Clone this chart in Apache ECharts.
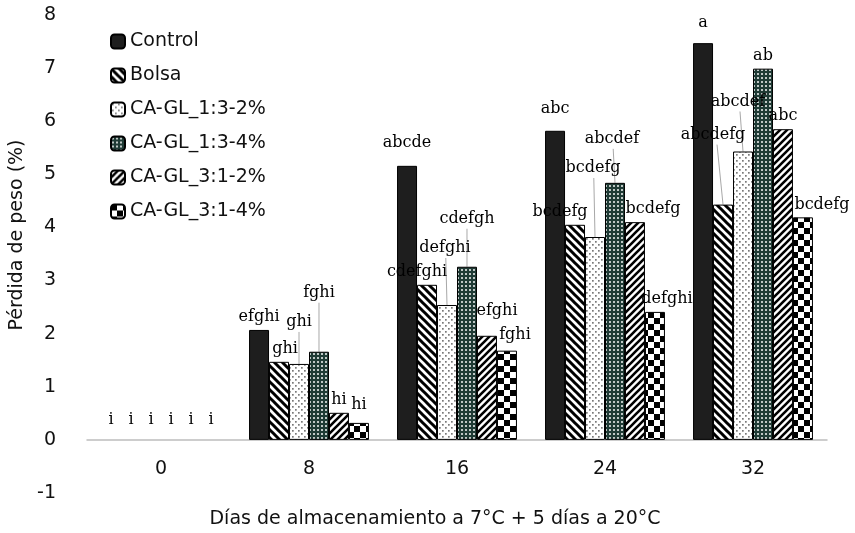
<!DOCTYPE html>
<html>
<head>
<meta charset="utf-8">
<script src="https://cdn.jsdelivr.net/npm/echarts@6/dist/echarts.min.js"></script>
<style>
html,body{margin:0;padding:0;background:#fff;}
#chart{width:855px;height:533px;}
</style>
</head>
<body>
<div id="chart"></div>
<script>
// ---- data ----
const categories = ['0', '8', '16', '24', '32'];
const seriesNames = ['Control', 'Bolsa', 'CA-GL_1:3-2%', 'CA-GL_1:3-4%', 'CA-GL_3:1-2%', 'CA-GL_3:1-4%'];
const yTicks = [-1, 0, 1, 2, 3, 4, 5, 6, 7, 8];

const control = [0, 2.07, 5.16, 5.82, 7.47];
const bolsa   = [0, 1.47, 2.92, 4.05, 4.43];
const gl13_2  = [0, 1.43, 2.54, 3.82, 5.43];
const gl13_4  = [0, 1.66, 3.26, 4.84, 6.99];
const gl31_2  = [0, 0.51, 1.96, 4.10, 5.85];
const gl31_4  = [0, 0.32, 1.68, 2.41, 4.19];

const lettersControl = ['i', 'efghi', 'abcde', 'abc', 'a'];
const lettersBolsa   = ['i', 'ghi', 'cdefghi', 'bcdefg', 'abcdefg'];
const letters13_2    = ['i', 'ghi', 'defghi', 'bcdefg', 'abcdef'];
const letters13_4    = ['i', 'fghi', 'cdefgh', 'abcdef', 'ab'];
const letters31_2    = ['i', 'hi', 'efghi', 'bcdefg', 'abc'];
const letters31_4    = ['i', 'hi', 'fghi', 'defghi', 'bcdefg'];

// ---- label layout (offsets in px, leader line flags) ----
const labelOffsets = [
  [[0,-7],[0,0],[0,-10],[0,-9],[0,-7]],
  [[0,-7],[6,0],[-10,0],[-15,0],[-10,-57]],
  [[0,-7],[0,-29],[-2,-44],[-2,-56],[-5,-37]],
  [[0,-7],[0,-46],[0,-35],[-3,-31],[0,0]],
  [[0,-7],[0,0],[10,-12],[18,0],[0,0]],
  [[0,-7],[0,-5],[8,-3],[12,0],[19,0]]
];
const leaderLines = [
  [false,false,false,false,false],
  [false,false,false,false,true],
  [false,true,true,true,true],
  [false,true,true,true,false],
  [false,false,false,false,false],
  [false,false,false,false,false]
];
const CAT_GAP = 0.19;
const LABEL_DIST = 5;

// ---- patterns ----
function tile(w, h, draw) {
  const c = document.createElement('canvas');
  c.width = w; c.height = h;
  const ctx = c.getContext('2d');
  draw(ctx, w, h);
  return { image: c, repeat: 'repeat' };
}
const fills = [
  '#1e1e1e',
  tile(8, 8, (ctx, w, h) => {
    ctx.fillStyle = '#fff'; ctx.fillRect(0, 0, w, h);
    ctx.strokeStyle = '#000'; ctx.lineWidth = 3;
    ctx.beginPath();
    ctx.moveTo(-2, -2); ctx.lineTo(w + 2, h + 2);
    ctx.moveTo(-2, h - 2); ctx.lineTo(2, h + 2);
    ctx.moveTo(w - 2, -2); ctx.lineTo(w + 2, 2);
    ctx.stroke();
  }),
  tile(6, 6, (ctx, w, h) => {
    ctx.fillStyle = '#fff'; ctx.fillRect(0, 0, w, h);
    ctx.fillStyle = '#7a7a7a';
    ctx.fillRect(1, 1, 1.7, 1.7);
    ctx.fillRect(4, 4, 1.7, 1.7);
  }),
  tile(4, 4, (ctx, w, h) => {
    ctx.fillStyle = '#1f3b35'; ctx.fillRect(0, 0, w, h);
    ctx.fillStyle = '#bfc7c5';
    ctx.fillRect(1, 1, 2, 2);
  }),
  tile(7, 7, (ctx, w, h) => {
    ctx.fillStyle = '#fff'; ctx.fillRect(0, 0, w, h);
    ctx.strokeStyle = '#000'; ctx.lineWidth = 2.6;
    ctx.beginPath();
    ctx.moveTo(-2, h + 2); ctx.lineTo(w + 2, -2);
    ctx.moveTo(-2, 2); ctx.lineTo(2, -2);
    ctx.moveTo(w - 2, h + 2); ctx.lineTo(w + 2, h - 2);
    ctx.stroke();
  }),
  tile(12, 12, (ctx, w, h) => {
    ctx.fillStyle = '#fff'; ctx.fillRect(0, 0, w, h);
    ctx.fillStyle = '#000';
    ctx.fillRect(0, 0, 6, 6);
    ctx.fillRect(6, 6, 6, 6);
  })
];

const values = [control, bolsa, gl13_2, gl13_4, gl31_2, gl31_4];
const letters = [lettersControl, lettersBolsa, letters13_2, letters13_4, letters31_2, letters31_4];

const series = seriesNames.map((name, s) => ({
  name: name,
  type: 'bar',
  barCategoryGap: (CAT_GAP * 100) + '%',
  barGap: '0%',
  itemStyle: { color: fills[s], borderColor: '#000', borderWidth: 1 },
  label: {
    show: true,
    position: 'top',
    distance: LABEL_DIST,
    fontFamily: 'DejaVu Serif',
    fontSize: 16,
    color: '#000'
  },
  data: values[s].map((v, i) => {
    const item = {
      value: v,
      label: { formatter: letters[s][i], offset: labelOffsets[s][i] }
    };
    if (v === 0) item.itemStyle = { borderWidth: 0 };
    return item;
  })
}));

// leader lines from bar top to the moved label
const leaderData = [];
values.forEach((vals, s) => vals.forEach((v, i) => {
  if (leaderLines[s][i]) leaderData.push([i, v, s]);
}));
series.push({
  type: 'custom',
  silent: true,
  z: 1,
  data: leaderData,
  renderItem: function (params, api) {
    const cat = api.value(0), v = api.value(1), s = api.value(2);
    const p = api.coord([cat, v]);
    const band = api.size([1, 0])[0];
    const groupW = band * (1 - CAT_GAP);
    const bw = groupW / seriesNames.length;
    const x = p[0] - groupW / 2 + bw * (s + 0.5);
    const off = labelOffsets[s][cat];
    const yLabelBottom = p[1] - LABEL_DIST + off[1] + 2;
    return {
      type: 'line',
      shape: { x1: x, y1: p[1], x2: x + off[0] * 0.6, y2: yLabelBottom },
      style: { stroke: '#a8a8a8', lineWidth: 1 }
    };
  }
});

const chart = echarts.init(document.getElementById('chart'));
chart.setOption({
  animation: false,
  backgroundColor: '#fff',
  textStyle: { fontFamily: 'DejaVu Sans' },
  grid: { left: 87, right: 28, top: 15, bottom: 40, containLabel: false, outerBoundsMode: 'none' },
  legend: {
    orient: 'vertical',
    left: 110,
    top: 32,
    padding: 0,
    itemWidth: 14,
    itemHeight: 14,
    itemGap: 15,
    textStyle: { fontFamily: 'DejaVu Sans', fontSize: 19, color: '#111' },
    data: seriesNames
  },
  xAxis: {
    type: 'category',
    data: categories,
    axisLine: { show: true, onZero: true, lineStyle: { color: '#bdbdbd', width: 1.5 } },
    axisTick: { show: false },
    axisLabel: { fontFamily: 'DejaVu Sans', fontSize: 19, color: '#111', margin: -33 },
    name: 'Días de almacenamiento a 7°C + 5 días a 20°C',
    nameLocation: 'middle',
    nameGap: 17,
    nameTextStyle: { fontFamily: 'DejaVu Sans', fontSize: 19, color: '#111', padding: [0, 44, 0, 0] }
  },
  yAxis: {
    type: 'value',
    min: yTicks[0],
    max: yTicks[yTicks.length - 1],
    interval: 1,
    axisLine: { show: false },
    axisTick: { show: false },
    splitLine: { show: false },
    axisLabel: { fontFamily: 'DejaVu Sans', fontSize: 19, color: '#111', margin: 31 },
    name: 'Pérdida de peso (%)',
    nameLocation: 'middle',
    nameGap: 51,
    nameTextStyle: { fontFamily: 'DejaVu Sans', fontSize: 19, color: '#111', padding: [0, 0, 0, 38] }
  },
  series: series
});
</script>
</body>
</html>
